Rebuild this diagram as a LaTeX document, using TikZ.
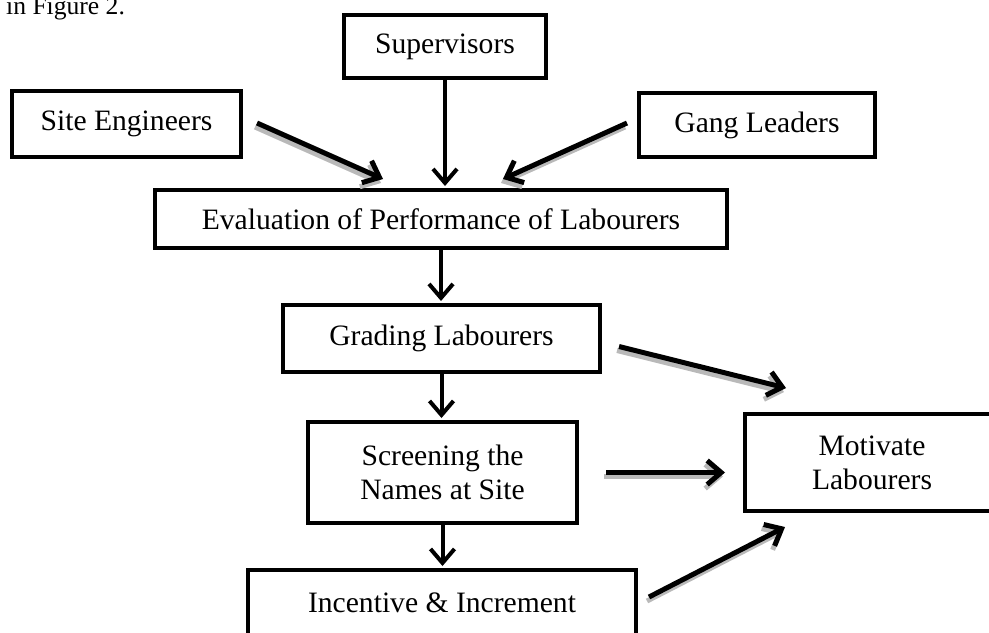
\documentclass[tikz,border=0pt]{standalone}
\usepackage{fontspec}
\setmainfont{Liberation Serif}
\usetikzlibrary{arrows.meta,calc}
\begin{document}
\begin{tikzpicture}[x=0.5pt,y=-0.5pt,
  box/.style={draw=black,line width=2pt,fill=white,inner sep=0pt,align=center,
    font=\fontsize{14.8}{17}\selectfont},
  vconn/.style={line width=2pt,-{Straight Barb[length=7pt,width=12pt,line width=2pt]}},
  sconn/.style={line width=2.5pt,-{Straight Barb[length=7pt,width=12pt,line width=2.5pt]}}
]
\useasboundingbox (0,0) rectangle (989,632);
\node[anchor=base east,font=\fontsize{12.8}{15}\selectfont] (cap) at (132,14) {n in Figure 2.};
\node[box,minimum width=101pt,minimum height=31.5pt] (sup) at (445,46.5) {Supervisors};
\node[box,minimum width=114.5pt,minimum height=33pt] (se) at (126.5,124) {Site Engineers};
\node[box,minimum width=118pt,minimum height=32pt] (gl) at (757,125) {Gang Leaders};
\node[box,minimum width=286pt,minimum height=29pt] (ev) at (441,219) {Evaluation of Performance of Labourers};
\node[box,minimum width=158.5pt,minimum height=33.5pt] (gr) at (441.5,338.5) {Grading Labourers};
\node[box,minimum width=134.5pt,minimum height=50.5pt] (sc) at (442.5,472.5) {Screening the\\Names at Site};
\node[box,minimum width=127pt,minimum height=48.5pt] (mot) at (872,462.5) {Motivate\\Labourers};
\node[box,minimum width=194pt,minimum height=33pt] (inc) at (442,603) {Incentive \& Increment};
% vertical connectors
\draw[vconn] (sup.south) -- ($(sup.south |- ev.north)+(0,-2)$);
\draw[vconn] (ev.south) -- ($(ev.south |- gr.north)+(0,-2)$);
\draw[vconn] (gr.south) -- ($(gr.south |- sc.north)+(0,-2)$);
\draw[vconn] (sc.south) -- ($(sc.south |- inc.north)+(0,-2)$);
% shadowed connectors (grey shadow first, then black arrow)
\foreach \dx/\dy/\col in {-2/4/gray!55,0/0/black}{
  \draw[sconn,draw=\col] ($(se.east)+(14+\dx,-1+\dy)$) -- ($(ev.north)+(-58+\dx,-9+\dy)$);
  \draw[sconn,draw=\col] ($(gl.west)+(-10+\dx,-2+\dy)$) -- ($(ev.north)+(62+\dx,-9+\dy)$);
  \draw[sconn,draw=\col] ($(gr.east)+(17+\dx,8+\dy)$) -- ($(mot.north west)+(43+\dx,-24+\dy)$);
  \draw[sconn,draw=\col] ($(sc.east)+(27+\dx,\dy)$) -- ($(sc.east -| mot.west)+(-18+\dx,\dy)$);
  \draw[sconn,draw=\col] ($(inc.east)+(11+\dx,-6+\dy)$) -- ($(mot.south west)+(42+\dx,14+\dy)$);
}
\end{tikzpicture}
\end{document}
